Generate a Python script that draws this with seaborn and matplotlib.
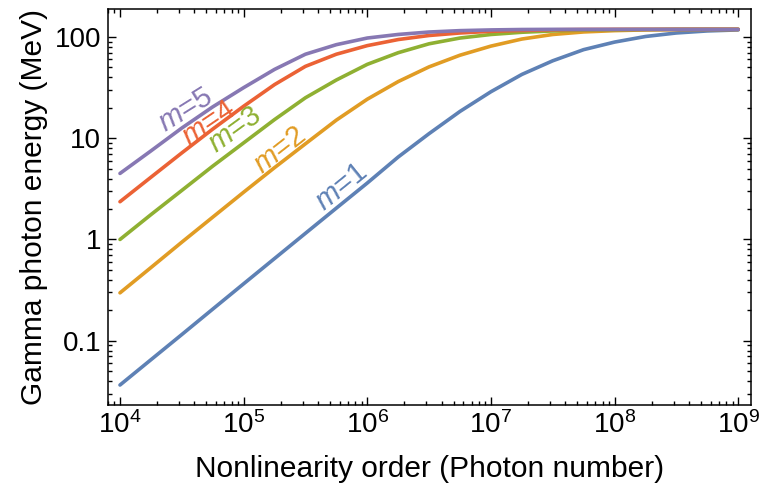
import numpy as np
import pandas as pd
import matplotlib
matplotlib.use("Agg")
import matplotlib.pyplot as plt
import matplotlib.ticker as mticker
import seaborn as sns

# photon number (nonlinearity order), quarter-decade samples
photon_number = [1.0e4, 1.78e4, 3.16e4, 5.62e4, 1.0e5, 1.78e5, 3.16e5, 5.62e5,
                 1.0e6, 1.78e6, 3.16e6, 5.62e6, 1.0e7, 1.78e7, 3.16e7, 5.62e7,
                 1.0e8, 1.78e8, 3.16e8, 5.62e8, 1.0e9]

# gamma photon energy in MeV for each m
energy_m1 = [0.0365, 0.0649, 0.115, 0.205, 0.365, 0.649, 1.15, 2.04,
             3.61, 6.53, 11.1, 18.4, 28.8, 42.7, 58.2, 75.0,
             89.1, 101.2, 109.6, 114.8, 117.5]
energy_m2 = [0.297, 0.528, 0.94, 1.66, 2.93, 5.13, 8.81, 15.1,
             24.3, 36.3, 50.7, 66.1, 81.3, 95.5, 105.9, 112.2,
             115.6, 117.5, 118.6, 119.1, 119.1]
energy_m3 = [1.0, 1.76, 3.05, 5.3, 9.0, 15.3, 25.1, 37.6,
             53.7, 70.0, 85.7, 97.7, 105.9, 111.4, 114.8, 117.0,
             118.0, 118.6, 119.0, 119.0, 119.0]
energy_m4 = [2.36, 4.12, 7.16, 12.3, 20.7, 33.9, 51.3, 67.6,
             82.2, 94.4, 103.5, 109.6, 113.8, 116.1, 117.8, 118.6,
             119.0, 119.0, 119.0, 119.0, 119.0]
energy_m5 = [4.49, 7.5, 12.6, 20.4, 31.6, 47.9, 67.6, 84.0,
             97.7, 106.0, 112.0, 115.6, 117.5, 118.6, 119.0, 119.0,
             119.0, 119.0, 119.0, 119.0, 119.0]

m_labels = ["m=1", "m=2", "m=3", "m=4", "m=5"]
colors = ["#5E81B5", "#E19C24", "#8FB032", "#EB6235", "#8778B3"]

x_ticks = [1e4, 1e5, 1e6, 1e7, 1e8, 1e9]
x_tick_labels = [r"$10^{4}$", r"$10^{5}$", r"$10^{6}$", r"$10^{7}$", r"$10^{8}$", r"$10^{9}$"]
y_ticks = [0.1, 1, 10, 100]
y_tick_labels = ["0.1", "1", "10", "100"]

# label anchors (x, y, rotation) next to each curve
label_x = [6.2e5, 1.97e5, 8.4e4, 5.25e4, 3.36e4]
label_y = [3.3, 7.6, 12.0, 14.0, 19.0]
label_rot = [39, 38, 36, 34, 32]

frames = []
for lab, vals in zip(m_labels, [energy_m1, energy_m2, energy_m3, energy_m4, energy_m5]):
    frames.append(pd.DataFrame({"photons": photon_number, "energy": vals, "m": lab}))
df = pd.concat(frames, ignore_index=True)

sns.set_style("ticks")
plt.rcParams["font.family"] = ["Liberation Sans", "DejaVu Sans"]
plt.rcParams["mathtext.fontset"] = "custom"
plt.rcParams["mathtext.rm"] = "Liberation Sans"
plt.rcParams["mathtext.it"] = "Liberation Sans:italic"
plt.rcParams["text.color"] = "black"
plt.rcParams["axes.labelcolor"] = "black"

fig = plt.figure(figsize=(7.59, 4.93), dpi=100)
ax = fig.add_axes([0.1423, 0.179, 0.8472, 0.8027])

sns.lineplot(data=df, x="photons", y="energy", hue="m", palette=colors,
             linewidth=2.6, legend=False, ax=ax)

ax.set_xscale("log")
ax.set_yscale("log")
ax.set_xlim(8.0e3, 1.27e9)
ax.set_ylim(0.0233, 189)

ax.xaxis.set_major_locator(mticker.FixedLocator(x_ticks))
ax.xaxis.set_major_formatter(mticker.FixedFormatter(x_tick_labels))
ax.yaxis.set_major_locator(mticker.FixedLocator(y_ticks))
ax.yaxis.set_major_formatter(mticker.FixedFormatter(y_tick_labels))
ax.xaxis.set_minor_locator(mticker.LogLocator(base=10, subs=np.arange(2, 10), numticks=20))
ax.yaxis.set_minor_locator(mticker.LogLocator(base=10, subs=np.arange(2, 10), numticks=20))
ax.xaxis.set_minor_formatter(mticker.NullFormatter())
ax.yaxis.set_minor_formatter(mticker.NullFormatter())

ax.tick_params(which="both", direction="in", top=True, right=True, colors="black",
               labelcolor="black", labelsize=20, width=1.0)
ax.tick_params(which="major", length=5.5, pad=5)
ax.tick_params(which="minor", length=3)
for sp in ax.spines.values():
    sp.set_linewidth(1.1)
    sp.set_color("black")

ax.set_xlabel("Nonlinearity order (Photon number)", fontsize=21.5, labelpad=11)
ax.set_ylabel("Gamma photon energy (MeV)", fontsize=21.5, labelpad=5)

for lab, c, lx, ly, rot in zip(m_labels, colors, label_x, label_y, label_rot):
    ax.text(lx, ly, "$m$=" + lab[2:], color=c, fontsize=21, rotation=rot,
            ha="center", va="center", rotation_mode="anchor")

fig.savefig("out.png", dpi=100)
